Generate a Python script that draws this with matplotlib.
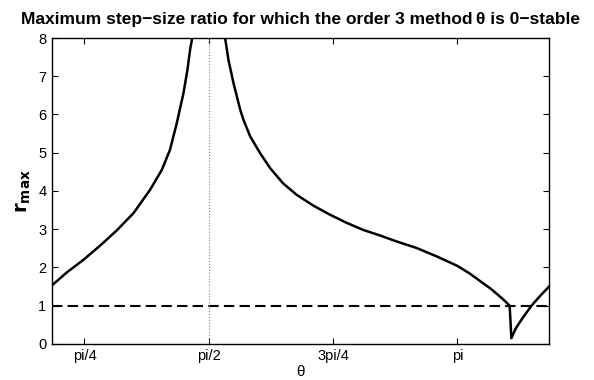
import numpy as np
import matplotlib
matplotlib.use("Agg")
import matplotlib.pyplot as plt

plt.rcParams['font.family'] = ['Liberation Sans', 'DejaVu Sans']

# 左支 (theta < pi/2)
theta_left = [0.58, 0.585, 0.674, 0.779, 0.884, 0.990, 1.095, 1.200, 1.274, 1.326, 1.369,
              1.411, 1.436, 1.453, 1.466, 1.475]
r_left = [1.52, 1.55, 1.87, 2.20, 2.57, 2.97, 3.42, 4.03, 4.55, 5.08, 5.78,
          6.56, 7.17, 7.70, 8.0, 8.4]

# 右支 (theta > pi/2)
theta_right = [1.668, 1.674, 1.695, 1.727, 1.769, 1.790, 1.832, 1.895, 1.958, 2.040, 2.126,
               2.230, 2.336, 2.440, 2.547, 2.657, 2.757, 2.883, 3.010, 3.1416, 3.220,
               3.293, 3.350, 3.399, 3.440, 3.472, 3.483, 3.510, 3.546, 3.610, 3.670, 3.726]
r_right = [8.3, 8.0, 7.43, 6.82, 6.13, 5.86, 5.43, 4.99, 4.60, 4.20, 3.90,
           3.62, 3.38, 3.17, 2.98, 2.83, 2.68, 2.51, 2.29, 2.04, 1.84,
           1.62, 1.45, 1.28, 1.13, 1.0, 0.15, 0.40, 0.63, 1.0, 1.28, 1.52]

xlim = (0.58, 0.58 + np.pi)
xticks = [np.pi / 4, np.pi / 2, 3 * np.pi / 4, np.pi]
xticklabels = ['pi/4', 'pi/2', '3pi/4', 'pi']

fig = plt.figure(figsize=(5.94, 3.80), dpi=100)
ax = fig.add_axes([0.0875, 0.095, 0.837, 0.805])

ax.plot(theta_left, r_left, color='black', lw=1.8)
ax.plot(theta_right, r_right, color='black', lw=1.8)
ax.axhline(1, color='black', lw=1.5, ls=(0, (5, 2.5)))
ax.axvline(np.pi / 2, color='gray', lw=0.8, ls=':')

ax.set_xlim(xlim)
ax.set_ylim(0, 8)
ax.set_xticks(xticks)
ax.set_xticklabels(xticklabels)
ax.set_yticks(range(0, 9))
ax.tick_params(direction='in', top=True, right=True, labelsize=10.5, length=4, width=0.8, pad=4)
for s in ax.spines.values():
    s.set_linewidth(1.0)

ax.set_xlabel('θ', fontsize=11, labelpad=1)
ax.set_ylabel(r'$\mathbf{r_{max}}$', fontsize=14, labelpad=4)
ax.set_title('Maximum step\u2212size ratio for which the order 3 method\u2009θ is 0\u2212stable',
             fontsize=12.5, fontweight='bold', pad=10)

fig.savefig('out.png', dpi=100)
